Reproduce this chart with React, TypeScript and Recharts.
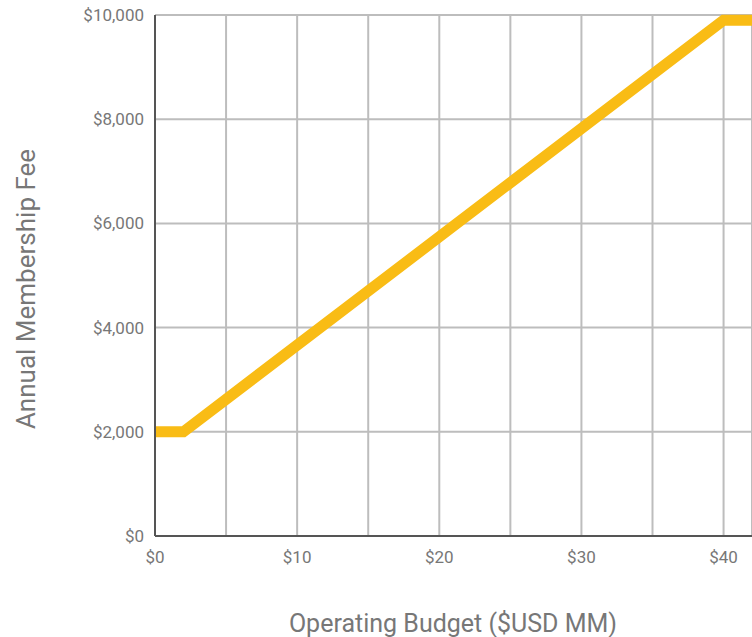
import { CartesianGrid, Label, Line, LineChart, XAxis, YAxis } from "recharts"

const budget = [0, 2, 40, 42]
const fee = [2000, 2000, 9900, 9900]
const xTicks = [0, 5, 10, 15, 20, 25, 30, 35, 40]
const yTicks = [0, 2000, 4000, 6000, 8000, 10000]

const data = budget.map((b, i) => ({ budget: b, fee: fee[i] }))

const font = "Roboto, 'Noto Sans', sans-serif"
const grey = "#777777"

export default function App() {
  return (
    <div style={{ position: "absolute", left: 0, top: 0, width: 752, height: 637, background: "#fff" }}>
      <LineChart width={752} height={637} data={data} margin={{ top: 15, right: 0, left: 0, bottom: 71 }}>
        <CartesianGrid stroke="#bdbdbd" strokeWidth={2} />
        <XAxis
          dataKey="budget"
          type="number"
          domain={[0, 42]}
          ticks={xTicks}
          interval={0}
          tickFormatter={(v) => (v % 10 === 0 ? `$${v}` : "")}
          tickLine={false}
          axisLine={{ stroke: "#555", strokeWidth: 2 }}
          tick={{ fill: grey, fontSize: 17, fontFamily: font }}
          tickMargin={9}
          height={30}
        >
          <Label
            content={() => (
              <text x={453} y={632} textAnchor="middle" fill={grey} fontSize={25} fontFamily={font}>
                Operating Budget ($USD MM)
              </text>
            )}
          />
        </XAxis>
        <YAxis
          type="number"
          domain={[0, 10000]}
          ticks={yTicks}
          interval={0}
          tickFormatter={(v) => `$${v.toLocaleString("en-US")}`}
          tickLine={false}
          axisLine={{ stroke: "#555", strokeWidth: 2 }}
          tick={{ fill: grey, fontSize: 17, fontFamily: font }}
          tickMargin={5}
          width={155}
        >
          <Label
            content={() => (
              <text
                x={26}
                y={289}
                transform="rotate(-90 26 289)"
                textAnchor="middle"
                dominantBaseline="central"
                fill={grey}
                fontSize={26}
                fontFamily={font}
              >
                Annual Membership Fee
              </text>
            )}
          />
        </YAxis>
        <Line
          type="linear"
          dataKey="fee"
          stroke="#f9bc15"
          strokeWidth={11}
          dot={false}
          activeDot={false}
          isAnimationActive={false}
        />
      </LineChart>
    </div>
  )
}
